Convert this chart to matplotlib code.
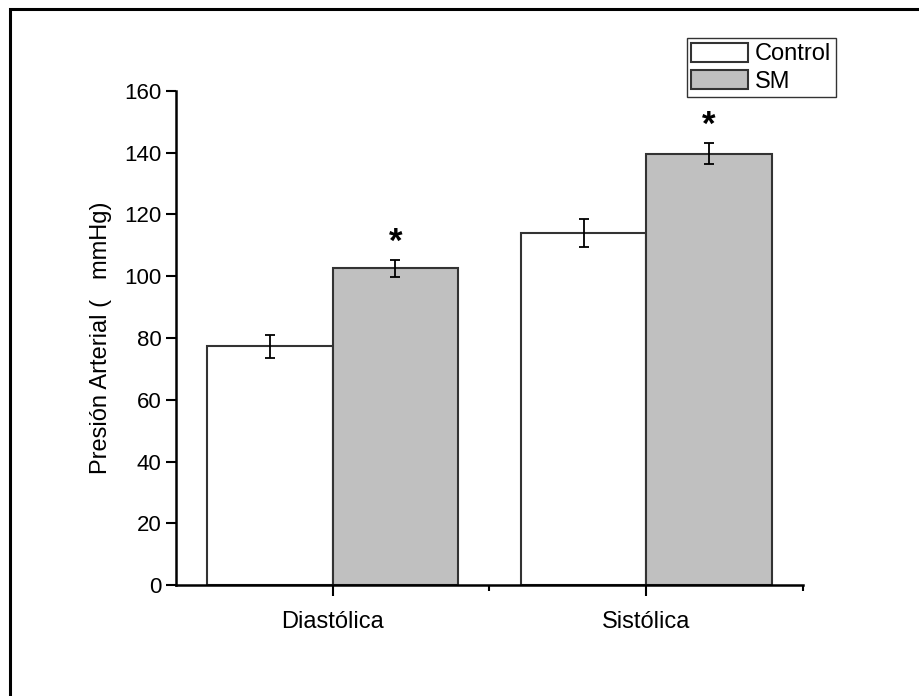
import matplotlib
matplotlib.use("Agg")
import matplotlib.pyplot as plt
from matplotlib.patches import Rectangle
import numpy as np

plt.rcParams['font.family'] = ['Liberation Sans', 'DejaVu Sans']

# data
categories = ['Diastólica', 'Sistólica']
groups = ['Control', 'SM']
control_vals = [77.3, 114.1]
control_err = [3.7, 4.6]
sm_vals = [102.6, 139.6]
sm_err = [2.7, 3.4]
yticks = [0, 20, 40, 60, 80, 100, 120, 140, 160]

fig = plt.figure(figsize=(9.2, 6.96), dpi=100)
ax = fig.add_axes([176 / 920, 1 - 585 / 696, (803 - 176) / 920, (585 - 91) / 696])

# frame around the figure (only top and left show in the original)
fig.patches.append(Rectangle((10 / 920, -0.1), 1.2, 1 - 9 / 696 + 0.1,
                             transform=fig.transFigure, fill=False,
                             edgecolor='black', linewidth=2.2))

x = np.arange(1, len(categories) + 1)
w = 0.4
err_kw = dict(ecolor='black', elinewidth=1.3, capsize=3.6, capthick=1.3)
ax.bar(x - w / 2, control_vals, w, yerr=control_err, color='white',
       edgecolor='#333333', linewidth=1.5, label=groups[0], error_kw=err_kw)
ax.bar(x + w / 2, sm_vals, w, yerr=sm_err, color='#c0c0c0',
       edgecolor='#333333', linewidth=1.5, label=groups[1], error_kw=err_kw)

# significance marks
for xi, v, e in zip(x + w / 2, sm_vals, sm_err):
    ax.annotate('*', (xi, v + e), xytext=(0, 1), textcoords='offset points',
                ha='center', va='bottom', fontsize=25, fontweight='bold')

ax.set_xlim(0.5, 2.5)
ax.set_ylim(0, 160)
ax.set_yticks(yticks)
ax.set_xticks(x)
ax.set_xticklabels(categories, fontsize=17)
ax.set_xticks([1.5, 2.5], minor=True)
ax.tick_params(axis='y', labelsize=16, direction='out', length=7, width=1.5)
ax.tick_params(axis='x', which='major', direction='out', length=8, width=1.5, pad=11)
ax.tick_params(axis='x', which='minor', direction='out', length=4, width=1.5)
ax.set_ylabel('Presión Arterial (   mmHg)', fontsize=17, labelpad=9)

for side in ['top', 'right']:
    ax.spines[side].set_visible(False)
for side in ['left', 'bottom']:
    ax.spines[side].set_linewidth(1.8)

leg = ax.legend(loc='upper right', bbox_to_anchor=(836 / 920, 1 - 38 / 696),
                bbox_transform=fig.transFigure, fontsize=17, frameon=True,
                fancybox=False, edgecolor='black', handlelength=2.4,
                handleheight=0.85, labelspacing=0.2, borderpad=0.2,
                handletextpad=0.3, borderaxespad=0)
leg.get_frame().set_linewidth(1.0)

fig.savefig('out.png', dpi=100)
